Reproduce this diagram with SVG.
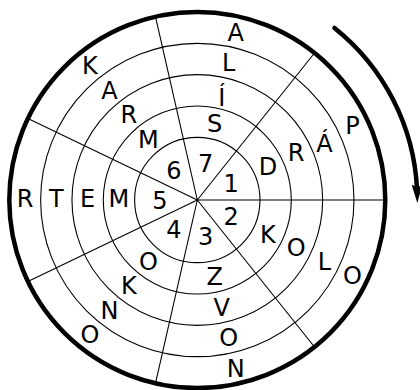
<svg xmlns="http://www.w3.org/2000/svg" width="420" height="390" viewBox="0 0 420 390">
<style>
.thin{fill:none;stroke:#000;stroke-width:1.1}
.thick{fill:none;stroke:#000;stroke-width:4.5}
.t{font-family:"DejaVu Sans","Liberation Sans",sans-serif;font-size:24px;fill:#000;text-anchor:middle}
</style>
<rect width="420" height="390" fill="#fff"/>
<g id="rings">
<circle class="thin" cx="197.3" cy="200" r="62.67"/>
<circle class="thin" cx="197.3" cy="200" r="94"/>
<circle class="thin" cx="197.3" cy="200" r="125.33"/>
<circle class="thin" cx="197.3" cy="200" r="156.67"/>
</g>
<g id="spokes">
<path class="thin" d="M197.3 200L385.3 200M197.3 200L314.5 53M197.3 200L155.47 16.71M197.3 200L27.92 118.43M197.3 200L27.92 281.57M197.3 200L155.47 383.29M197.3 200L314.5 347"/>
</g>
<g id="outer">
<circle class="thick" cx="197.3" cy="200" r="188"/>
</g>
<g id="arrow">
<path class="thick" d="M334.47 28A220 220 0 0 1 417.07 190" stroke-linecap="round"/>
<path d="M417.3 203L411.6 184.5Q417 188.5 422.6 184.5Z" fill="#000"/>
</g>
<g class="t">
<g id="numbers">
<text x="231.09" y="192.4">1</text>
<text x="231.09" y="225">2</text>
<text x="205.64" y="245.3">3</text>
<text x="173.92" y="238">4</text>
<text x="159.8" y="208.7">5</text>
<text x="173.92" y="179.4">6</text>
<text x="205.64" y="172.1">7</text>
</g>
<g id="w1">
<text x="267.87" y="174.7">D</text>
<text x="296.11" y="161.1">R</text>
<text x="324.34" y="151.8">Á</text>
<text x="352.56" y="133.9">P</text>
</g>
<g id="w2">
<text x="267.87" y="242.7">K</text>
<text x="296.11" y="256.3">O</text>
<text x="324.34" y="269.9">L</text>
<text x="352.56" y="283.5">O</text>
</g>
<g id="w3">
<text x="214.73" y="285.1">Z</text>
<text x="221.7" y="315.6">V</text>
<text x="228.68" y="346.2">O</text>
<text x="235.65" y="376.7">N</text>
</g>
<g id="w4">
<text x="148.46" y="269.9">O</text>
<text x="128.92" y="294.4">K</text>
<text x="109.39" y="318.9">N</text>
<text x="89.85" y="343.4">O</text>
</g>
<g id="w5">
<text x="118.97" y="207">M</text>
<text x="87.63" y="207">E</text>
<text x="56.3" y="207">T</text>
<text x="24.97" y="207">R</text>
</g>
<g id="w6">
<text x="148.46" y="147.5">M</text>
<text x="128.92" y="123">R</text>
<text x="109.39" y="98.5">A</text>
<text x="89.85" y="74">K</text>
</g>
<g id="w7">
<text x="214.73" y="132.3">S</text>
<text x="221.7" y="105.5">Í</text>
<text x="228.68" y="71.2">L</text>
<text x="235.65" y="40.7">A</text>
</g>
</g>
</svg>
